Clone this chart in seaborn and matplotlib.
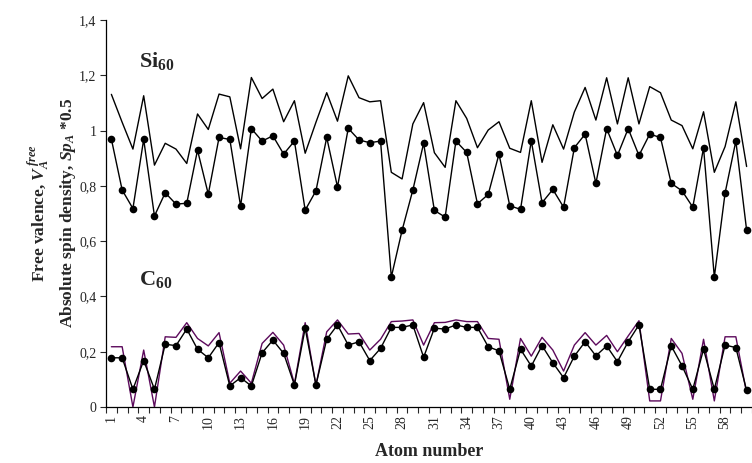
import numpy as np
import pandas as pd
import matplotlib
matplotlib.use("Agg")
import matplotlib.pyplot as plt
import seaborn as sns

# ── data ──────────────────────────────────────────────────
atoms = np.arange(1, 61)

si_free_valence = [1.131, 1.03, 0.933, 1.126, 0.875, 0.954, 0.933, 0.881, 1.060, 1.004,
                   1.132, 1.122, 0.934, 1.192, 1.116, 1.150, 1.032, 1.108, 0.918, 1.03,
                   1.137, 1.034, 1.198, 1.119, 1.104, 1.108, 0.849, 0.825, 1.024, 1.101,
                   0.920, 0.867, 1.108, 1.044, 0.938, 1.002, 1.032, 0.936, 0.921, 1.108,
                   0.885, 1.021, 0.933, 1.067, 1.156, 1.038, 1.191, 1.024, 1.191, 1.024,
                   1.159, 1.137, 1.038, 1.018, 0.934, 1.068, 0.849, 0.942, 1.104, 0.87]

si_spin = [0.969, 0.785, 0.718, 0.968, 0.691, 0.775, 0.734, 0.737, 0.929, 0.770,
           0.975, 0.968, 0.727, 1.007, 0.962, 0.981, 0.915, 0.962, 0.712, 0.782,
           0.975, 0.796, 1.008, 0.966, 0.956, 0.962, 0.47, 0.639, 0.785, 0.954,
           0.711, 0.687, 0.962, 0.921, 0.735, 0.769, 0.915, 0.728, 0.715, 0.963,
           0.739, 0.787, 0.723, 0.938, 0.987, 0.809, 1.007, 0.910, 1.007, 0.910,
           0.987, 0.975, 0.809, 0.782, 0.723, 0.938, 0.47, 0.774, 0.962, 0.64]

c_free_valence = [0.218, 0.218, 0.0, 0.206, 0.0, 0.254, 0.252, 0.305, 0.248, 0.221,
                  0.269, 0.086, 0.130, 0.086, 0.230, 0.270, 0.224, 0.084, 0.305, 0.078,
                  0.272, 0.315, 0.264, 0.266, 0.206, 0.245, 0.309, 0.311, 0.315, 0.224,
                  0.305, 0.306, 0.315, 0.309, 0.309, 0.248, 0.245, 0.028, 0.248, 0.184,
                  0.252, 0.206, 0.130, 0.224, 0.269, 0.224, 0.259, 0.200, 0.257, 0.312,
                  0.022, 0.022, 0.248, 0.194, 0.028, 0.245, 0.022, 0.254, 0.254, 0.05]

c_spin = [0.178, 0.178, 0.064, 0.168, 0.064, 0.227, 0.222, 0.282, 0.209, 0.178,
          0.233, 0.076, 0.106, 0.076, 0.196, 0.242, 0.194, 0.080, 0.285, 0.080,
          0.245, 0.297, 0.224, 0.236, 0.168, 0.212, 0.288, 0.288, 0.297, 0.180,
          0.285, 0.282, 0.297, 0.288, 0.288, 0.218, 0.203, 0.064, 0.209, 0.148,
          0.222, 0.160, 0.106, 0.184, 0.236, 0.185, 0.221, 0.164, 0.236, 0.297,
          0.064, 0.064, 0.221, 0.149, 0.064, 0.209, 0.064, 0.224, 0.215, 0.06]

tick_atoms = list(range(1, 61, 3))
y_ticks = [0, 0.2, 0.4, 0.6, 0.8, 1.0, 1.2, 1.4]
y_labels = ["0", "0,2", "0,4", "0,6", "0,8", "1", "1,2", "1,4"]

df = pd.DataFrame({"atom": atoms,
                   "si_fv": si_free_valence, "si_sp": si_spin,
                   "c_fv": c_free_valence, "c_sp": c_spin})

# ── style ─────────────────────────────────────────────────
sns.set_style("ticks")
plt.rcParams["font.family"] = ["Liberation Serif", "DejaVu Serif"]
plt.rcParams["mathtext.fontset"] = "custom"
plt.rcParams["mathtext.rm"] = "Liberation Serif"
plt.rcParams["mathtext.it"] = "Liberation Serif:italic"
plt.rcParams["mathtext.bf"] = "Liberation Serif:bold"
plt.rcParams["mathtext.bfit"] = "Liberation Serif:italic:bold"

fig = plt.figure(figsize=(7.52, 4.63), dpi=100)
ax = fig.add_axes([106 / 752, 56 / 463, 646 / 752, 387 / 463])

purple = "#5c0a5c"
sns.lineplot(data=df, x="atom", y="si_fv", ax=ax, color="black", lw=1.0)
sns.lineplot(data=df, x="atom", y="si_sp", ax=ax, color="black", lw=1.0,
             marker="o", markersize=5.5, markeredgewidth=0)
sns.lineplot(data=df, x="atom", y="c_fv", ax=ax, color=purple, lw=1.0)
sns.lineplot(data=df, x="atom", y="c_sp", ax=ax, color="black", lw=1.0,
             marker="o", markersize=5.5, markeredgewidth=0)

# ── axes ──────────────────────────────────────────────────
ax.set_xlim(0.5, 0.5 + 646 / 10.9)
ax.set_ylim(0, 1.4)
ax.set_yticks(y_ticks)
ax.set_yticklabels(y_labels, fontsize=10)
ax.set_xticks(tick_atoms)
ax.set_xticklabels([str(t) for t in tick_atoms], rotation=90, fontsize=10)
ax.set_xticks(np.arange(0.5, 61, 1), minor=True)
ax.tick_params(axis="x", which="major", length=0, pad=6)
ax.tick_params(axis="x", which="minor", length=4, width=0.8, direction="out")
ax.tick_params(axis="y", length=4, width=0.8, direction="out", pad=3)
sns.despine(ax=ax)
for s in ["left", "bottom"]:
    ax.spines[s].set_linewidth(0.9)
    ax.spines[s].set_color("black")

ax.set_xlabel("Atom number", fontsize=13, fontweight="bold", labelpad=10)
ax.set_ylabel("")
fig.text(39 / 752, 0.54, r"Free valence, $\mathbfit{V}_{\mathbfit{A}}^{\ \mathbfit{free}}$",
         rotation=90, ha="center", va="center", fontsize=12.5, fontweight="bold")
fig.text(68 / 752, 0.54, r"Absolute spin density, $\mathbfit{Sp}_{\mathbfit{A}}$ *0.5",
         rotation=90, ha="center", va="center", fontsize=12.5, fontweight="bold")

ax.text(3.6, 1.25, r"Si$_{\mathbf{60}}$", fontsize=16, fontweight="bold", va="center")
ax.text(3.6, 0.46, r"C$_{\mathbf{60}}$", fontsize=16, fontweight="bold", va="center")

fig.savefig("out.png", dpi=100)
